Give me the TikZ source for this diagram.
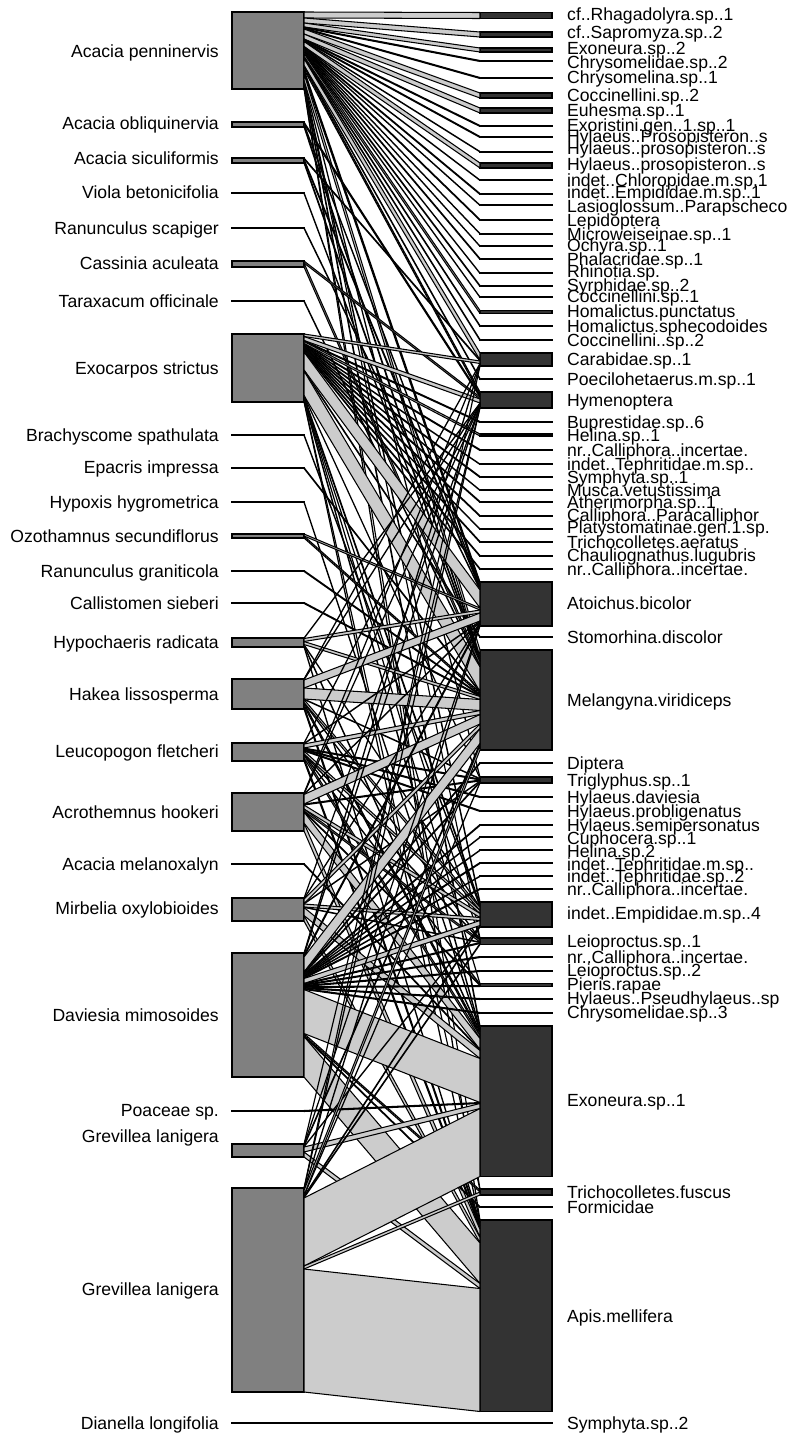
\documentclass[tikz,border=0pt]{standalone}
\usepackage{fontspec}
\setmainfont{Liberation Sans}
\definecolor{lowgrey}{gray}{0.5}
\definecolor{highgrey}{gray}{0.2}
\definecolor{webgrey}{gray}{0.8}
\tikzset{
  lowbox/.style={draw=black, fill=lowgrey, line width=1.1pt, inner sep=0pt, outer sep=0pt, minimum width=72pt},
  highbox/.style={draw=black, fill=highgrey, line width=1.1pt, inner sep=0pt, outer sep=0pt, minimum width=72pt},
  web/.style={draw=black, fill=webgrey, line width=1.05pt, line join=round},
  lowlab/.style={anchor=base east, inner sep=0pt, font=\fontsize{17.6}{17.6}\selectfont},
  highlab/.style={anchor=base west, inner sep=0pt, font=\fontsize{17.6}{17.6}\selectfont}
}
% plants: index / top of box / label height / name
\def\lowlist{1/12/52/Acacia penninervis, 2/122/124/Acacia obliquinervia,
 3/158/159/Acacia siculiformis, 4/192.5/193/Viola betonicifolia,
 5/227.5/228/Ranunculus scapiger, 6/261/263/Cassinia aculeata,
 7/300.5/301/Taraxacum officinale, 8/334/368/Exocarpos strictus,
 9/434.5/435/Brachyscome spathulata, 10/467.5/467/Epacris impressa,
 11/501.5/502/Hypoxis hygrometrica, 12/534/536/Ozothamnus secundiflorus,
 13/570.5/571/Ranunculus graniticola, 14/602.5/603/Callistomen sieberi,
 15/638/642/Hypochaeris radicata, 16/679/694/Hakea lissosperma,
 17/743/751/Leucopogon fletcheri, 18/793/812/Acrothemnus hookeri,
 19/863.5/864/Acacia melanoxalyn, 20/898/908/Mirbelia oxylobioides,
 21/953/1015/Daviesia mimosoides, 22/1110.5/1110/Poaceae sp.,
 23/1144/1136/Grevillea lanigera, 24/1188/1289/Grevillea lanigera,
 25/1422.5/1423/Dianella longifolia}
% visitors: index / top of box / label height / name
\def\highlist{1/12.5/15/cf..Rhagadolyra.sp..1, 2/32/33/cf..Sapromyza.sp..2,
 3/48/49/Exoneura.sp..2, 4/60.5/63/Chrysomelidae.sp..2,
 5/77.5/78/Chrysomelina.sp..1, 6/93/96/Coccinellini.sp..2,
 7/108/111/Euhesma.sp..1, 8/125.5/126/Exoristini.gen..1.sp..1,
 9/136.5/137/Hylaeus..Prosopisteron..s, 10/151.5/149/Hylaeus..prosopisteron..s,
 11/163/165/Hylaeus..prosopisteron..s, 12/180/180/indet..Chloropidae.m.sp.1,
 13/193.5/193/indet..Empididae.m.sp..1, 14/205/206/Lasioglossum..Parapscheco,
 15/219.5/220/Lepidoptera, 16/233.5/234/Microweiseinae.sp..1,
 17/246/245/Ochyra.sp..1, 18/258.5/259/Phalacridae.sp..1,
 19/273/271/Rhinotia.sp., 20/285.5/285/Syrphidae.sp..2,
 21/297/296/Coccinellini.sp..1, 22/310.5/311/Homalictus.punctatus,
 23/325.5/326/Homalictus.sphecodoides, 24/339.5/340/Coccinellini..sp..2,
 25/353/359/Carabidae.sp..1, 26/378.5/379/Poecilohetaerus.m.sp..1,
 27/392/400/Hymenoptera, 28/421.5/422/Buprestidae.sp..6,
 29/434/435/Helina.sp..1, 30/449.5/450/nr..Calliphora..incertae.,
 31/464/464/indet..Tephritidae.m.sp.., 32/476.5/477/Symphyta.sp..1,
 33/490/490/Musca.vetustissima, 34/501.5/502/Atherimorpha.sp..1,
 35/515.5/515/Calliphora..Paracalliphor, 36/529/527/Platystomatinae.gen.1.sp.,
 37/541.5/542/Trichocolletes.aeratus, 38/555.5/555/Chauliognathus.lugubris,
 39/568.5/569/nr..Calliphora..incertae., 40/582/603/Atoichus.bicolor,
 41/636.5/637/Stomorhina.discolor, 42/650/700/Melangyna.viridiceps,
 43/762.5/763/Diptera, 44/777/780/Triglyphus.sp..1,
 45/796.5/797/Hylaeus.daviesia, 46/810.5/811/Hylaeus.probligenatus,
 47/824.5/825/Hylaeus.semipersonatus, 48/837/838/Cuphocera.sp..1,
 49/850/851/Helina.sp.2, 50/862.5/864/indet..Tephritidae.m.sp..,
 51/876/876/indet..Tephritidae.sp..2, 52/888.5/889/nr..Calliphora..incertae.,
 53/902/913/indet..Empididae.m.sp..4, 54/938/941/Leioproctus.sp..1,
 55/956.5/957/nr..Calliphora..incertae., 56/970.5/970/Leioproctus.sp..2,
 57/983.5/984/Pieris.rapae, 58/998.5/998/Hylaeus..Pseudhylaeus..sp,
 59/1012.5/1012/Chrysomelidae.sp..3, 60/1026/1100/Exoneura.sp..1,
 61/1189/1192/Trichocolletes.fuscus, 62/1206.5/1207/Formicidae,
 63/1220/1316/Apis.mellifera, 64/1422.5/1423/Symphyta.sp..2}
% interactions: plant / visitor / weight
\def\weblist{1/1/6, 1/2/5, 1/3/4, 1/4/1, 1/5/1, 1/6/5, 1/7/5, 1/8/1, 1/9/1,
 1/10/0.5, 1/11/5, 1/12/0.5, 1/13/1, 1/14/0.5, 1/15/1, 1/16/0.5, 1/17/0.5,
 1/18/1, 1/19/0.5, 1/20/1, 1/21/0.5, 1/22/3, 1/23/1, 1/24/1, 1/25/7, 1/26/1,
 1/27/3, 1/40/4, 1/42/7, 1/44/1, 1/53/2, 1/54/0.5, 1/60/3, 1/61/0.5, 1/63/1.5,
 2/27/2, 2/40/1, 2/42/2,
 3/25/1, 3/40/2, 3/42/2,
 4/42/1, 5/40/1, 6/27/2, 6/42/4, 7/42/1,
 8/25/2.5, 8/27/4, 8/28/1, 8/29/2, 8/30/1, 8/31/0.5, 8/32/1, 8/33/0.5, 8/34/1,
 8/35/1, 8/36/0.5, 8/37/1, 8/38/1, 8/39/1, 8/40/18, 8/41/1, 8/42/24.5,
 8/44/0.5, 8/53/2, 8/54/0.5, 8/57/0.5, 8/60/1.5, 8/61/0.5, 8/63/1,
 9/53/1, 10/42/1, 11/60/1, 12/40/2, 12/42/2, 13/42/1, 14/42/1,
 15/27/0.5, 15/40/3, 15/42/3, 15/53/0.5, 15/60/1, 15/63/1,
 16/25/0.5, 16/27/0.5, 16/40/8, 16/42/11, 16/44/0.5, 16/53/3, 16/54/0.5,
 16/60/3, 16/63/3,
 17/27/0.5, 17/40/0.5, 17/42/4, 17/44/1, 17/45/1, 17/46/1, 17/53/3, 17/54/0.5,
 17/57/0.5, 17/60/3, 17/63/3,
 18/25/0.5, 18/27/0.5, 18/40/0.5, 18/42/9.5, 18/44/1, 18/53/4, 18/54/2,
 18/57/1, 18/60/11, 18/63/8,
 19/60/1,
 20/27/0.5, 20/40/0.5, 20/42/4.5, 20/44/0.5, 20/53/3, 20/54/0.5, 20/60/8,
 20/63/5.5,
 21/25/1, 21/27/1, 21/40/2, 21/42/15, 21/43/1, 21/44/1, 21/47/1, 21/48/0.5,
 21/49/0.5, 21/50/1, 21/51/0.5, 21/52/1, 21/53/5, 21/54/1, 21/55/1, 21/56/1,
 21/57/1, 21/58/1, 21/59/1, 21/60/44, 21/61/2, 21/62/1, 21/63/40.5,
 22/60/1,
 23/27/0.5, 23/40/0.5, 23/42/1.5, 23/53/0.5, 23/60/5, 23/63/5,
 24/25/0.5, 24/27/1, 24/40/1, 24/42/5, 24/44/0.5, 24/53/1, 24/54/1, 24/60/68,
 24/61/3, 24/63/123,
 25/64/1}
\begin{document}
\begin{tikzpicture}[x=1pt, y=-1pt]
\fill[white] (0,0) rectangle (788,1434);
\useasboundingbox (0,0) rectangle (788,1434);
% running totals and offsets for each box
\foreach \i in {1,...,25}{%
  \expandafter\xdef\csname wbSL\i\endcsname{0}%
  \expandafter\xdef\csname wbOL\i\endcsname{0}}
\foreach \j in {1,...,64}{%
  \expandafter\xdef\csname wbSH\j\endcsname{0}%
  \expandafter\xdef\csname wbOH\j\endcsname{0}}
\foreach \a/\b/\w in \weblist {%
  \edef\wbcur{\csname wbSL\a\endcsname}%
  \pgfmathsetmacro\wbnew{\wbcur+\w}%
  \expandafter\xdef\csname wbSL\a\endcsname{\wbnew}%
  \edef\wbcur{\csname wbSH\b\endcsname}%
  \pgfmathsetmacro\wbnew{\wbcur+\w}%
  \expandafter\xdef\csname wbSH\b\endcsname{\wbnew}}
% boxes and labels
\foreach \i/\t/\ly/\nm in \lowlist {%
  \edef\wbH{\csname wbSL\i\endcsname}%
  \node[lowbox, minimum height=\wbH pt, anchor=north west] (L\i) at (232,\t) {};
  \node[lowlab] (LL\i) at (219,\ly+6) {\nm};}
\foreach \j/\t/\ly/\nm in \highlist {%
  \edef\wbH{\csname wbSH\j\endcsname}%
  \node[highbox, minimum height=\wbH pt, anchor=north west] (H\j) at (480,\t) {};
  \node[highlab] (HL\j) at (567,\ly+6) {\nm};}
% interaction bands, stacked in order along both boxes
\foreach \a/\b/\w in \weblist {%
  \edef\wbol{\csname wbOL\a\endcsname}%
  \edef\wboh{\csname wbOH\b\endcsname}%
  \pgfmathsetmacro\wbolb{\wbol+\w}%
  \pgfmathsetmacro\wbohb{\wboh+\w}%
  \path[web] ([yshift=-\wbol pt]L\a.north east) -- ([yshift=-\wboh pt]H\b.north west)
     -- ([yshift=-\wbohb pt]H\b.north west) -- ([yshift=-\wbolb pt]L\a.north east) -- cycle;
  \expandafter\xdef\csname wbOL\a\endcsname{\wbolb}%
  \expandafter\xdef\csname wbOH\b\endcsname{\wbohb}}
\end{tikzpicture}
\end{document}
